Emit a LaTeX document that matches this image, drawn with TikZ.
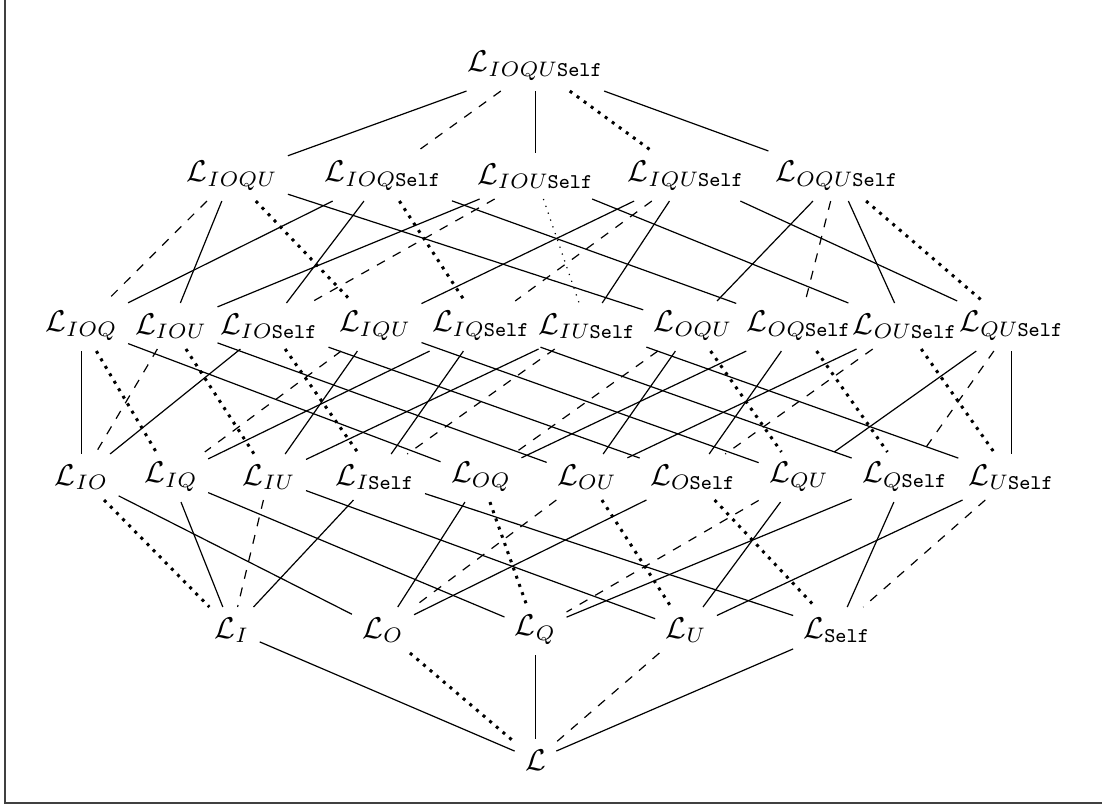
\documentclass[tikz,border=0pt]{standalone}
\begin{document}
\begin{tikzpicture}[x=0.3333pt,y=-0.3333pt,
  lat/.style={inner sep=3.3pt},
  sol/.style={},
  dsh/.style={dashed},
  dot/.style={line width=1pt,dash pattern=on 1pt off 1.9pt},
  tdot/.style={dotted}]
\useasboundingbox (0,0) rectangle (1102,808);
\draw[black!75,line width=0.6pt] (5,0) -- (5,803) -- (1102,803);
\newcommand{\Sf}{\mathtt{Self}}
% row 1
\node[lat] (IOQUS) at (535.5,66) {$\mathcal{L}_{IOQU\Sf}$};
% row 2
\node[lat] (IOQU) at (232,176) {$\mathcal{L}_{IOQU}$};
\node[lat] (IOQS) at (383,176) {$\mathcal{L}_{IOQ\Sf}$};
\node[lat] (IOUS) at (535.5,176) {$\mathcal{L}_{IOU\Sf}$};
\node[lat] (IQUS) at (686,176) {$\mathcal{L}_{IQU\Sf}$};
\node[lat] (OQUS) at (837,176) {$\mathcal{L}_{OQU\Sf}$};
% row 3
\node[lat] (IOQ) at (81.5,326) {$\mathcal{L}_{IOQ}$};
\node[lat] (IOU) at (171,326) {$\mathcal{L}_{IOU}$};
\node[lat] (IOS) at (269,326) {$\mathcal{L}_{IO\Sf}$};
\node[lat] (IQU) at (375,326) {$\mathcal{L}_{IQU}$};
\node[lat] (IQS) at (481,326) {$\mathcal{L}_{IQ\Sf}$};
\node[lat] (IUS) at (587,326) {$\mathcal{L}_{IU\Sf}$};
\node[lat] (OQU) at (693,326) {$\mathcal{L}_{OQU}$};
\node[lat] (OQS) at (799,326) {$\mathcal{L}_{OQ\Sf}$};
\node[lat] (OUS) at (905,326) {$\mathcal{L}_{OU\Sf}$};
\node[lat] (QUS) at (1011.5,326) {$\mathcal{L}_{QU\Sf}$};
% row 4
\node[lat] (IO) at (81.5,477) {$\mathcal{L}_{IO}$};
\node[lat] (IQ) at (171,477) {$\mathcal{L}_{IQ}$};
\node[lat] (IU) at (269,477) {$\mathcal{L}_{IU}$};
\node[lat] (IS) at (375,477) {$\mathcal{L}_{I\Sf}$};
\node[lat] (OQ) at (481,477) {$\mathcal{L}_{OQ}$};
\node[lat] (OU) at (587,477) {$\mathcal{L}_{OU}$};
\node[lat] (OS) at (693,477) {$\mathcal{L}_{O\Sf}$};
\node[lat] (QU) at (799,477) {$\mathcal{L}_{QU}$};
\node[lat] (QS) at (905,477) {$\mathcal{L}_{Q\Sf}$};
\node[lat] (US) at (1011.5,477) {$\mathcal{L}_{U\Sf}$};
% row 5
\node[lat] (I) at (232,630) {$\mathcal{L}_{I}$};
\node[lat] (O) at (383,630) {$\mathcal{L}_{O}$};
\node[lat] (Q) at (535.5,630) {$\mathcal{L}_{Q}$};
\node[lat] (U) at (686,630) {$\mathcal{L}_{U}$};
\node[lat] (S) at (837,630) {$\mathcal{L}_{\Sf}$};
% row 6
\node[lat] (L) at (535.5,760) {$\mathcal{L}$};
% edges row1-row2
\draw[sol] (IOQUS) -- (IOQU);
\draw[dsh] (IOQUS) -- (IOQS);
\draw[sol] (IOQUS) -- (IOUS);
\draw[dot] (IOQUS) -- (IQUS);
\draw[sol] (IOQUS) -- (OQUS);
% row2-row3
\draw[dsh] (IOQU) -- (IOQ);
\draw[sol] (IOQU) -- (IOU);
\draw[dot] (IOQU) -- (IQU);
\draw[sol] (IOQU) -- (OQU);
\draw[sol] (IOQS) -- (IOQ);
\draw[sol] (IOQS) -- (IOS);
\draw[dot] (IOQS) -- (IQS);
\draw[sol] (IOQS) -- (OQS);
\draw[sol] (IOUS) -- (IOU);
\draw[dsh] (IOUS) -- (IOS);
\draw[tdot] (IOUS) -- (IUS);
\draw[sol] (IOUS) -- (OUS);
\draw[sol] (IQUS) -- (IQU);
\draw[dsh] (IQUS) -- (IQS);
\draw[sol] (IQUS) -- (IUS);
\draw[sol] (IQUS) -- (QUS);
\draw[sol] (OQUS) -- (OQU);
\draw[dsh] (OQUS) -- (OQS);
\draw[sol] (OQUS) -- (OUS);
\draw[dot] (OQUS) -- (QUS);
% row3-row4
\draw[sol] (IOQ) -- (IO);
\draw[dot] (IOQ) -- (IQ);
\draw[sol] (IOQ) -- (OQ);
\draw[dsh] (IOU) -- (IO);
\draw[dot] (IOU) -- (IU);
\draw[sol] (IOU) -- (OU);
\draw[sol] (IOS) -- (IO);
\draw[dot] (IOS) -- (IS);
\draw[sol] (IOS) -- (OS);
\draw[dsh] (IQU) -- (IQ);
\draw[sol] (IQU) -- (IU);
\draw[sol] (IQU) -- (QU);
\draw[sol] (IQS) -- (IQ);
\draw[sol] (IQS) -- (IS);
\draw[sol] (IQS) -- (QS);
\draw[sol] (IUS) -- (IU);
\draw[dsh] (IUS) -- (IS);
\draw[sol] (IUS) -- (US);
\draw[dsh] (OQU) -- (OQ);
\draw[sol] (OQU) -- (OU);
\draw[dot] (OQU) -- (QU);
\draw[sol] (OQS) -- (OQ);
\draw[sol] (OQS) -- (OS);
\draw[dot] (OQS) -- (QS);
\draw[sol] (OUS) -- (OU);
\draw[dsh] (OUS) -- (OS);
\draw[dot] (OUS) -- (US);
\draw[sol] (QUS) -- (QU);
\draw[dsh] (QUS) -- (QS);
\draw[sol] (QUS) -- (US);
% row4-row5
\draw[dot] (IO) -- (I);
\draw[sol] (IO) -- (O);
\draw[sol] (IQ) -- (I);
\draw[sol] (IQ) -- (Q);
\draw[dsh] (IU) -- (I);
\draw[sol] (IU) -- (U);
\draw[sol] (IS) -- (I);
\draw[sol] (IS) -- (S);
\draw[sol] (OQ) -- (O);
\draw[dot] (OQ) -- (Q);
\draw[dsh] (OU) -- (O);
\draw[dot] (OU) -- (U);
\draw[sol] (OS) -- (O);
\draw[dot] (OS) -- (S);
\draw[dsh] (QU) -- (Q);
\draw[sol] (QU) -- (U);
\draw[sol] (QS) -- (Q);
\draw[sol] (QS) -- (S);
\draw[sol] (US) -- (U);
\draw[dsh] (US) -- (S);
% row5-row6
\draw[sol] (I) -- (L);
\draw[dot] (O) -- (L);
\draw[sol] (Q) -- (L);
\draw[dsh] (U) -- (L);
\draw[sol] (S) -- (L);
\end{tikzpicture}
\end{document}
